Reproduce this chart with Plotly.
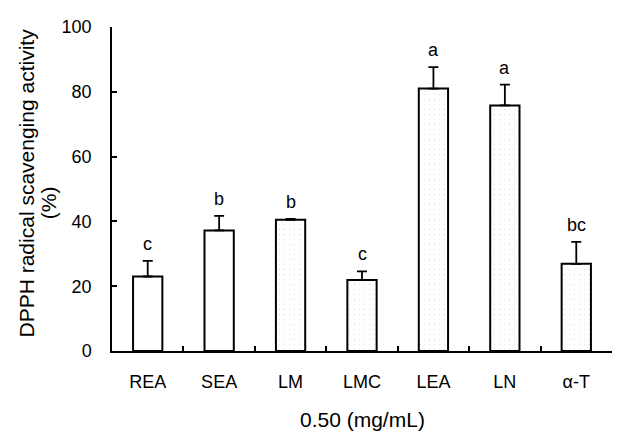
import plotly.graph_objects as go

categories = ["REA", "SEA", "LM", "LMC", "LEA", "LN", "α-T"]
means = [23.0, 37.2, 40.5, 21.9, 81.0, 75.8, 26.9]
errors = [4.8, 4.5, 0.3, 2.7, 6.6, 6.4, 6.8]
letters = ["c", "b", "b", "c", "a", "a", "bc"]
stippled = [False, False, True, True, True, True, True]

FONT = "Liberation Sans, Arial, sans-serif"

fig = go.Figure()
fig.add_trace(go.Bar(
    x=categories,
    y=means,
    width=0.41,
    marker=dict(
        color="white",
        line=dict(color="black", width=2),
        pattern=dict(
            shape=["." if s else "" for s in stippled],
            fgcolor="#c8c8c8",
            bgcolor="white",
            size=5,
            solidity=0.06,
        ),
    ),
    error_y=dict(
        type="data",
        symmetric=False,
        array=errors,
        arrayminus=[0] * len(errors),
        color="black",
        thickness=1.8,
        width=5,
    ),
    showlegend=False,
))

for c, m, e, l in zip(categories, means, errors, letters):
    fig.add_annotation(
        x=c, y=m + e, text=l, showarrow=False,
        yshift=17, font=dict(family=FONT, size=18, color="black"),
    )

fig.add_annotation(
    xref="paper", yref="paper", x=-0.172, y=0.517,
    text="DPPH radical scavenging activity", textangle=-90,
    showarrow=False, xanchor="center", yanchor="middle",
    font=dict(family=FONT, size=21, color="black"),
)
fig.add_annotation(
    xref="paper", yref="paper", x=-0.128, y=0.456,
    text="(%)", textangle=-90,
    showarrow=False, xanchor="center", yanchor="middle",
    font=dict(family=FONT, size=21, color="black"),
)
fig.add_annotation(
    xref="paper", yref="paper", x=0.5, y=-0.212,
    text="0.50 (mg/mL)",
    showarrow=False, xanchor="center", yanchor="middle",
    font=dict(family=FONT, size=21, color="black"),
)

fig.update_layout(
    width=613, height=426,
    margin=dict(l=104, r=9, t=12, b=83),
    plot_bgcolor="white", paper_bgcolor="white",
    font=dict(family=FONT, size=18, color="black"),
    xaxis=dict(
        showline=True, linecolor="black", linewidth=1.5,
        ticks="inside", ticklen=5, tickwidth=1.5, tickcolor="black",
        tickson="boundaries",
        ticklabelstandoff=14,
        tickfont=dict(size=18),
        showgrid=False, zeroline=False,
    ),
    yaxis=dict(
        range=[0, 100], tickvals=[0, 20, 40, 60, 80, 100],
        showline=True, linecolor="black", linewidth=1.5,
        ticks="inside", ticklen=5, tickwidth=1.5, tickcolor="black",
        ticklabelstandoff=15,
        tickfont=dict(size=18),
        showgrid=False, zeroline=False,
    ),
)

fig.write_html("out.html")
